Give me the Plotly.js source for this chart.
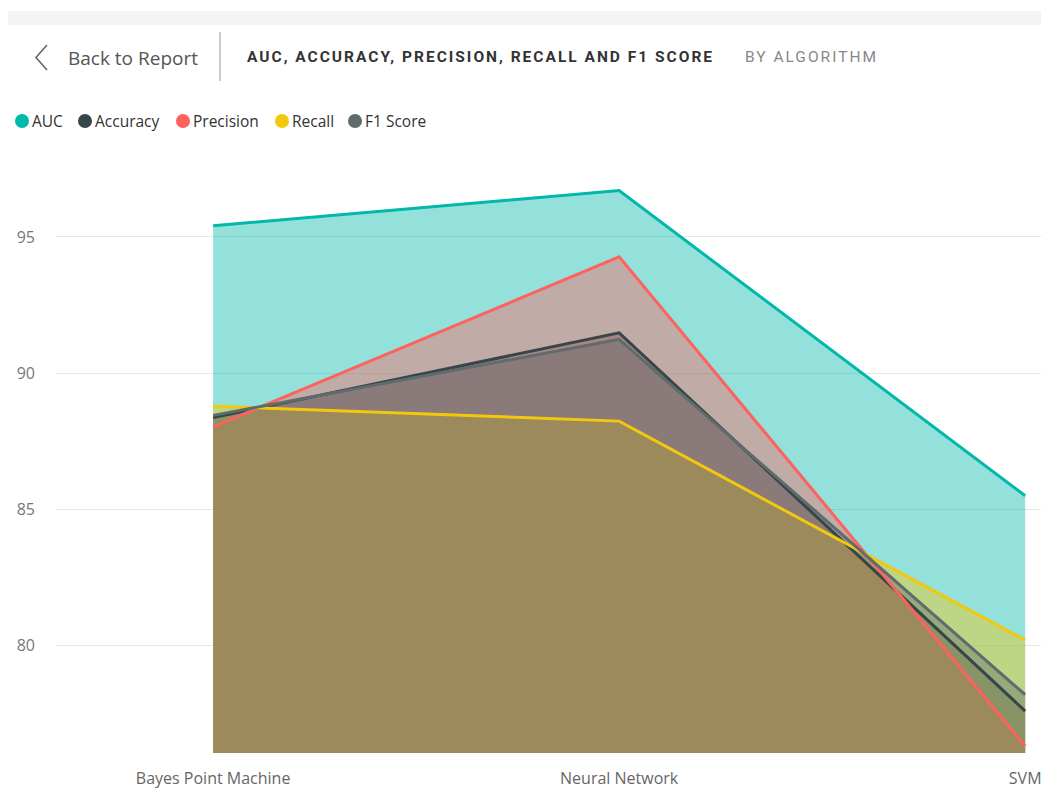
<!DOCTYPE html>
<html>
<head>
<meta charset="utf-8">
<script src="https://cdn.plot.ly/plotly-3.0.1.min.js"></script>
<style>
  html, body { margin: 0; padding: 0; background: #ffffff; }
  #chart { width: 1041px; height: 790px; }
</style>
</head>
<body>
<div id="chart"></div>
<script>
// ---- data ----
const categories = ['Bayes Point Machine', 'Neural Network', 'SVM'];
const auc       = [95.41, 96.70, 85.50];
const accuracy  = [88.37, 91.48, 77.60];
const precision = [88.03, 94.27, 76.32];
const recall    = [88.79, 88.24, 80.20];
const f1Score   = [88.45, 91.24, 78.20];
const yTicks    = [80, 85, 90, 95];

const seriesNames  = ['AUC', 'Accuracy', 'Precision', 'Recall', 'F1 Score'];
const seriesValues = [auc, accuracy, precision, recall, f1Score];
const seriesColors = ['#01B8AA', '#374649', '#FD625E', '#F2C80F', '#5F6B6D'];

// ---- layout geometry (pixels) ----
const W = 1041, H = 790;
const ML = 56, MR = 0, MT = 150, MB = 37;
const plotW = W - ML - MR, plotH = H - MT - MB;
const px = x => (x - ML) / plotW;
const py = y => (H - MB - y) / plotH;

function hexToRgba(hex, a) {
  const n = parseInt(hex.slice(1), 16);
  return `rgba(${(n >> 16) & 255},${(n >> 8) & 255},${n & 255},${a})`;
}

const traces = [];
// fills first
seriesNames.forEach((name, i) => {
  traces.push({
    type: 'scatter', mode: 'lines', name: name,
    x: categories, y: seriesValues[i],
    fill: 'tozeroy', fillcolor: hexToRgba(seriesColors[i], 0.42),
    line: { width: 0, color: seriesColors[i] },
    hoverinfo: 'skip', showlegend: false
  });
});
// lines on top
seriesNames.forEach((name, i) => {
  traces.push({
    type: 'scatter', mode: 'lines', name: name,
    x: categories, y: seriesValues[i],
    line: { width: 3, color: seriesColors[i] },
    showlegend: false
  });
});

// ---- header & legend ----
const shapes = [
  { type: 'rect', xref: 'paper', yref: 'paper', x0: px(8), x1: px(W), y0: py(25), y1: py(11),
    fillcolor: '#f4f4f4', line: { width: 0 }, layer: 'below' },
  { type: 'path', xref: 'paper', yref: 'paper',
    path: `M ${px(47)} ${py(45)} L ${px(36)} ${py(57.5)} L ${px(47)} ${py(70)}`,
    line: { color: '#666666', width: 1.6 } },
  { type: 'line', xref: 'paper', yref: 'paper', x0: px(220), x1: px(220), y0: py(32), y1: py(81),
    line: { color: '#9a9a9a', width: 1 } }
];
const annotations = [
  { xref: 'paper', yref: 'paper', x: px(66), y: py(58), xanchor: 'left', yanchor: 'middle',
    text: 'Back to Report', showarrow: false,
    font: { family: 'Open Sans, sans-serif', size: 19, color: '#555555' } },
  { xref: 'paper', yref: 'paper', x: px(245), y: py(57), xanchor: 'left', yanchor: 'middle',
    text: '<span style="letter-spacing:2px"><b>AUC, ACCURACY, PRECISION, RECALL AND F1 SCORE</b></span>', showarrow: false,
    font: { family: 'Roboto, sans-serif', size: 15.5, color: '#333333' } },
  { xref: 'paper', yref: 'paper', x: px(743), y: py(57), xanchor: 'left', yanchor: 'middle',
    text: '<span style="letter-spacing:2px">BY ALGORITHM</span>', showarrow: false,
    font: { family: 'Roboto, sans-serif', size: 15.5, color: '#888888' } }
];
const legendCx = [22, 85, 183, 282, 355];
const legendY = 121, r = 7;
seriesNames.forEach((name, i) => {
  shapes.push({ type: 'circle', xref: 'paper', yref: 'paper',
    x0: px(legendCx[i] - r), x1: px(legendCx[i] + r), y0: py(legendY + r), y1: py(legendY - r),
    fillcolor: seriesColors[i], line: { width: 0 } });
  annotations.push({ xref: 'paper', yref: 'paper', x: px(legendCx[i] + 8), y: py(legendY),
    xanchor: 'left', yanchor: 'middle', text: name, showarrow: false,
    font: { family: 'Open Sans, sans-serif', size: 15.5, color: '#333333' } });
});

const layout = {
  width: W, height: H,
  margin: { l: ML, r: MR, t: MT, b: MB, pad: 0 },
  paper_bgcolor: '#ffffff', plot_bgcolor: '#ffffff',
  showlegend: false,
  xaxis: {
    type: 'category', range: [-0.387, 2.039],
    showgrid: false, zeroline: false, showline: false,
    ticks: '', ticklabelstandoff: 14,
    tickfont: { family: 'Open Sans, sans-serif', size: 16, color: '#666666' }
  },
  yaxis: {
    range: [76.06, 98.19], tickvals: yTicks,
    showgrid: true, gridcolor: '#e6e6e6', gridwidth: 1,
    zeroline: false, showline: false, ticks: '', ticklabelstandoff: 20,
    tickfont: { family: 'Open Sans, sans-serif', size: 16, color: '#777777' }
  },
  shapes: shapes,
  annotations: annotations
};

Plotly.newPlot('chart', traces, layout, { displayModeBar: false, staticPlot: true });
</script>
</body>
</html>
